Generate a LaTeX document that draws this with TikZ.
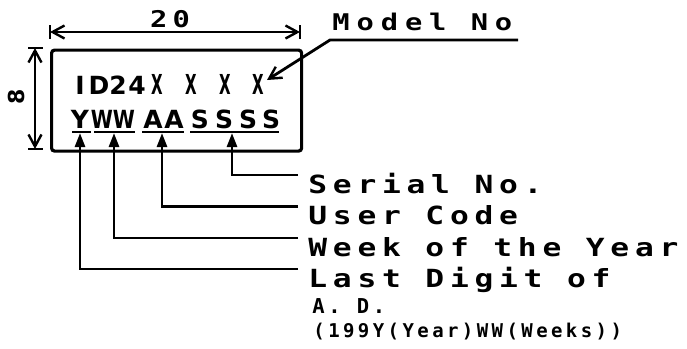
\documentclass[tikz,border=0pt]{standalone}
\usepackage{fontspec}
\usepackage{graphicx}
\usetikzlibrary{arrows.meta}
\newfontfamily\plotfont[FakeStretch=1.25,LetterSpace=23]{DejaVu Sans Mono}
\newfontfamily\modelfont[FakeStretch=1.25,LetterSpace=30]{DejaVu Sans Mono}
\newfontfamily\smallfont[LetterSpace=18]{DejaVu Sans Mono}
\newfontfamily\boxfont{DejaVu Sans}
\tikzset{
  lbl/.style={anchor=base west, inner sep=0pt, font=\plotfont\bfseries\fontsize{25bp}{25bp}\selectfont},
  mlbl/.style={anchor=base west, inner sep=0pt, font=\modelfont\bfseries\fontsize{23bp}{23bp}\selectfont},
  sml/.style={anchor=base west, inner sep=0pt, font=\smallfont\bfseries\fontsize{19bp}{19bp}\selectfont},
  ad/.style={anchor=base west, inner sep=0pt, font=\smallfont\bfseries\fontsize{20.5bp}{20bp}\selectfont},
  ch/.style={anchor=base, inner sep=0pt, font=\boxfont\bfseries\fontsize{25bp}{25bp}\selectfont},
  dimline/.style={line width=2.4bp, {Straight Barb[length=12bp,width=13bp,line width=2.4bp]}-{Straight Barb[length=12bp,width=13bp,line width=2.4bp]}},
  lead/.style={line width=2.8bp, -{Triangle[length=14bp,width=10bp]}},
  modlead/.style={line width=2.8bp, -{Straight Barb[length=12bp,width=13bp,line width=2.4bp]}},
  uline/.style={line width=2.8bp},
  tick/.style={line width=2.6bp},
}
\begin{document}
\begin{tikzpicture}[x=1bp,y=-1bp,line width=2.8bp]
\useasboundingbox (0,0) rectangle (687,348);
% plate
\node[draw, line width=3.2bp, rounded corners=3bp, minimum width=250bp, minimum height=101bp, anchor=north west, inner sep=0pt] (plate) at (50,48.5) {};
% width dimension
\coordinate (dl) at (50,32);
\coordinate (dr) at (300,32);
\draw[tick] (50,25) -- (50,39);
\draw[tick] (300,25) -- (300,39);
\draw[dimline] (dl) -- (dr);
\node[anchor=base, inner sep=0pt, font=\plotfont\bfseries\fontsize{23bp}{23bp}\selectfont] (w20) at (170,27) {20};
% height dimension
\coordinate (dt) at (35,48);
\coordinate (db) at (35,149);
\draw[tick] (28,48) -- (43,48);
\draw[tick] (28,149) -- (43,149);
\draw[dimline] (dt) -- (db);
\node[rotate=90, inner sep=0pt, font=\boxfont\bfseries\fontsize{22bp}{22bp}\selectfont] (h8) at (16,97) {8};
% line 1
\node[ch] (c1) at (80,94) {I};
\node[ch] (c2) at (99,94) {D};
\node[ch] (c3) at (118,94) {2};
\node[ch] (c4) at (137,94) {4};
\node[ch] (c5) at (157,94) {\scalebox{0.6}[1.1]{X}};
\node[ch] (c6) at (191,94) {\scalebox{0.6}[1.1]{X}};
\node[ch] (c7) at (225,94) {\scalebox{0.6}[1.1]{X}};
\node[ch] (c8) at (258,94) {\scalebox{0.6}[1.1]{X}};
% line 2
\node[ch] (d1) at (80,128) {Y};
\node[ch] (d2) at (102,128) {\scalebox{0.8}[1]{W}};
\node[ch] (d3) at (124,128) {\scalebox{0.8}[1]{W}};
\node[ch] (d4) at (153,128) {A};
\node[ch] (d5) at (174,128) {A};
\node[ch] (d6) at (200,128) {S};
\node[ch] (d7) at (224,128) {S};
\node[ch] (d8) at (248,128) {S};
\node[ch] (d9) at (271,128) {S};
\draw[uline] (72,132) -- (91,132);
\draw[uline] (94,132) -- (135,132);
\draw[uline] (142,132) -- (184,132);
\draw[uline] (190,132) -- (279,132);
% model no
\node[mlbl] (model) at (331,30) {Model No};
\coordinate (m2) at (518,40);
\coordinate (m1) at (330,40);
\coordinate (mtip) at (267,80);
\draw[modlead] (m2) -- (m1) -- (mtip);
% arrow tips
\coordinate (tY) at (80,133);
\coordinate (tW) at (114,133);
\coordinate (tA) at (162,133);
\coordinate (tS) at (232,133);
% line ends
\coordinate (eS) at (298,175);
\coordinate (eA) at (298,206.5);
\coordinate (eW) at (298,238);
\coordinate (eY) at (298,269);
\draw[lead] (eS) -| (tS);
\draw[lead] (eA) -| (tA);
\draw[lead] (eW) -| (tW);
\draw[lead] (eY) -| (tY);
% labels
\node[lbl] (serial) at (307,193) {Serial No.};
\node[lbl] (user) at (307,224.5) {User Code};
\node[lbl] (week) at (307,256) {Week of the Year};
\node[lbl] (last) at (307,287) {Last Digit of};
\node[ad] (adl) at (311,313) {A. D.};
\node[sml] (fmt) at (312,337) {(199Y(Year)WW(Weeks))};
\end{tikzpicture}
\end{document}
